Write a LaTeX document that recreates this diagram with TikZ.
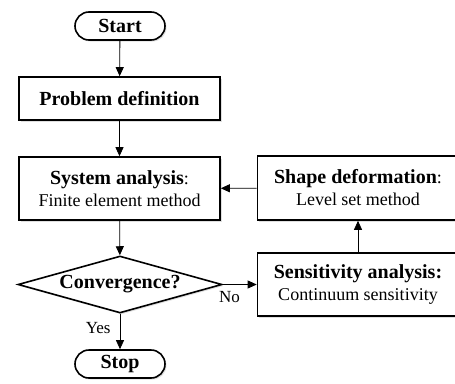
\documentclass[tikz,border=0pt]{standalone}
\usepackage{fontspec}
\setmainfont{Liberation Serif}
\usetikzlibrary{shapes.geometric,shadows,arrows.meta}

\newcommand{\hd}[1]{{\fontsize{20}{22}\selectfont\bfseries #1}}

\begin{document}
\begin{tikzpicture}[x=1pt, y=-1pt, font=\fontsize{18}{22}\selectfont,
    box/.style={draw, line width=1.6pt, fill=white, minimum width=201pt, inner sep=0pt, align=center,
      drop shadow={shadow xshift=1.5pt, shadow yshift=-1.5pt, opacity=0.25}},
    term/.style={box, rounded corners=14pt, minimum width=90pt, minimum height=28pt},
    decide/.style={diamond, draw, line width=1.6pt, fill=white, inner sep=0pt, shape aspect=3.58,
      minimum width=204pt, minimum height=57pt,
      drop shadow={shadow xshift=1.5pt, shadow yshift=-1.5pt, opacity=0.25}},
    arr/.style={-{Triangle[length=9pt,width=8pt]}, line width=0.8pt},
    lbl/.style={font=\fontsize{17}{20}\selectfont, inner sep=2pt}]
    \useasboundingbox (0,0) rectangle (455,383);
    \clip (0,0) rectangle (455,383);
    % main column
    \node[term] (start) at (120,26) {\hd{Start}};
    \node[box, minimum height=43pt] (prob) at (119.5,98.5) {\hd{Problem definition}};
    \node[box, minimum height=63pt] (sys) at (119.5,188.5) {\hd{System analysis}:\\Finite element method};
    \node[decide] (conv) at (120,284.5) {\hd{Convergence?}};
    \node[term] (stop) at (120,364) {\hd{Stop}};
    % update loop
    \node[box, minimum height=64pt] (shape) at (358,188) {\hd{Shape deformation}:\\Level set method};
    \node[box, minimum height=63pt] (sens) at (358,284.5) {\hd{Sensitivity analysis:}\\Continuum sensitivity};
    \foreach \i/\j in {start/prob, prob/sys, sys/conv, sens/shape, shape/sys}
      \draw[arr] (\i) -- (\j);
    \draw[arr] (conv) -- node[lbl, below, pos=0.2, yshift=-4pt] {No} (sens);
    \draw[arr] (conv) -- node[lbl, left, pos=0.4, xshift=-7pt] {Yes} (stop);
\end{tikzpicture}
\end{document}
